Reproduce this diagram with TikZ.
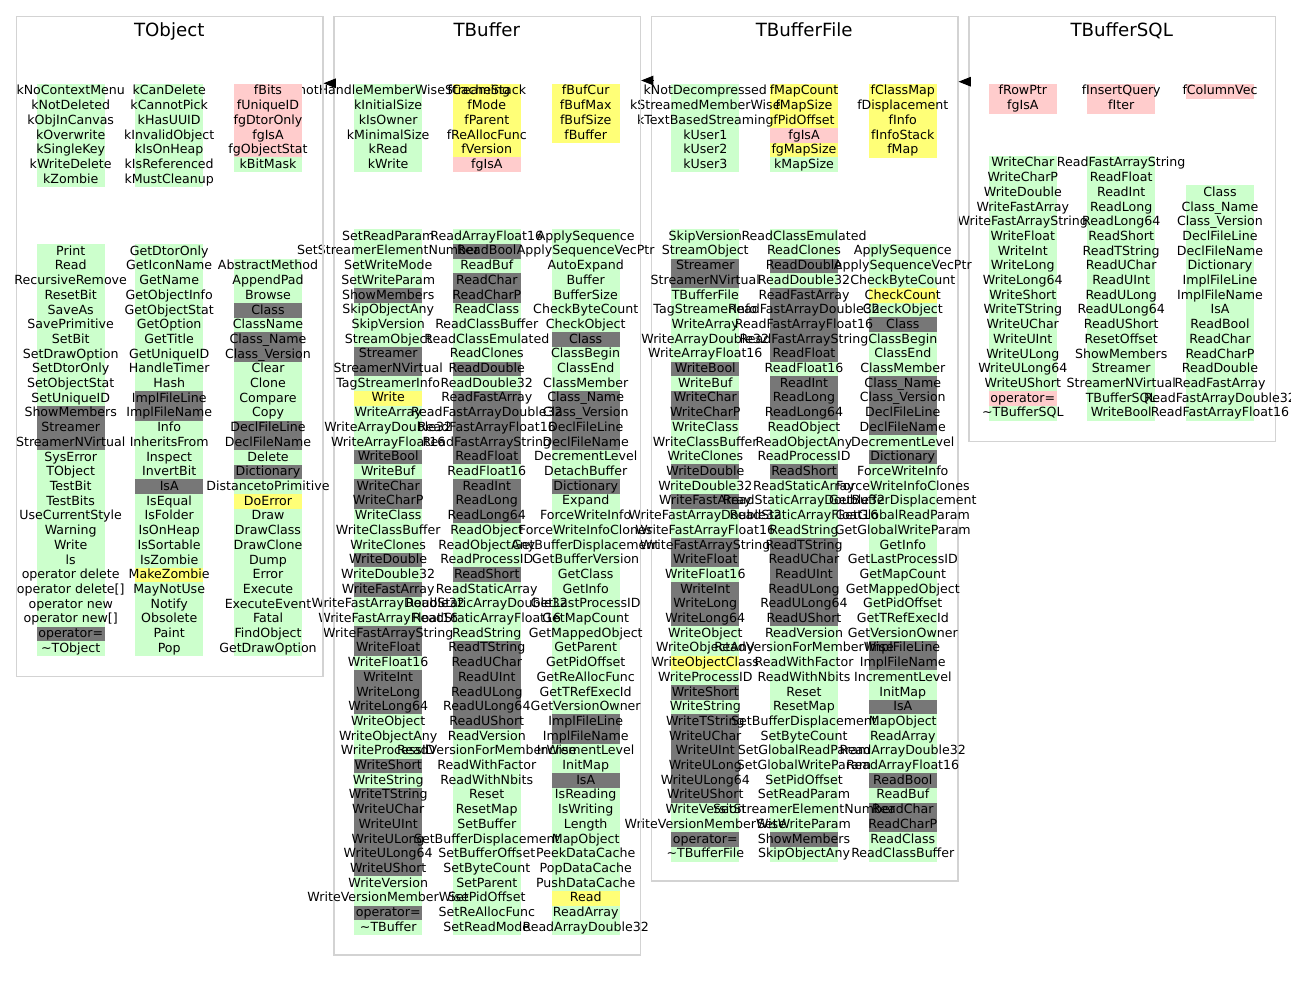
\documentclass[tikz,border=0pt]{standalone}
\usepackage{fontspec}
\setmainfont{DejaVu Sans}
\usetikzlibrary{arrows.meta}

\definecolor{cg}{HTML}{CCFFCC}
\definecolor{cp}{HTML}{FFCCCC}
\definecolor{cy}{HTML}{FFFF77}
\definecolor{ck}{HTML}{777777}
\definecolor{frm}{HTML}{D3D3D3}

\tikzset{
  cell/.style={anchor=base, inner sep=0pt, font=\fontsize{12.6}{14.7}\selectfont},
  clustertitle/.style={anchor=base, inner sep=0pt, font=\fontsize{18.2}{21}\selectfont},
  frame/.style={draw=frm, line width=1.2pt, inner sep=0pt, anchor=north west, minimum width=306.6pt},
  inh/.style={-{Triangle[length=12.3pt,width=9.5pt]}, line width=1pt, black},
}

% row fills of one member column: x centre, top, list of colour/name
\newcommand\colfill[3]{%
  \foreach \clr/\txt [count=\i] in #3 {%
    \fill[fill=c\clr] ({#1-34},{#2+(\i-1)*14.7}) rectangle ({#1+34},{#2+\i*14.7+0.15});
  }}
% row labels of one member column: name prefix, x centre, top, list
\newcommand\coltext[4]{%
  \foreach \clr/\txt [count=\i] in #4 {%
    \node[cell] (#1-\i) at ({#2},{#3+(\i-1)*14.7+11}) {\txt};
  }}

% ---------------- TObject ----------------
\def\TOa{g/kNoContextMenu,g/kNotDeleted,g/kObjInCanvas,g/kOverwrite,g/kSingleKey,g/kWriteDelete,g/kZombie}
\def\TOb{g/kCanDelete,g/kCannotPick,g/kHasUUID,g/kInvalidObject,g/kIsOnHeap,g/kIsReferenced,g/kMustCleanup}
\def\TOc{p/fBits,p/fUniqueID,p/fgDtorOnly,p/fgIsA,p/fgObjectStat,g/kBitMask}
\def\TOd{g/Print,g/Read,g/RecursiveRemove,g/ResetBit,g/SaveAs,g/SavePrimitive,g/SetBit,g/SetDrawOption,g/SetDtorOnly,g/SetObjectStat,g/SetUniqueID,k/ShowMembers,k/Streamer,k/StreamerNVirtual,g/SysError,g/TObject,g/TestBit,g/TestBits,g/UseCurrentStyle,g/Warning,g/Write,g/ls,g/operator delete,g/operator delete[],g/operator new,g/operator new[],k/operator=,g/\textasciitilde TObject}
\def\TOe{g/GetDtorOnly,g/GetIconName,g/GetName,g/GetObjectInfo,g/GetObjectStat,g/GetOption,g/GetTitle,g/GetUniqueID,g/HandleTimer,g/Hash,k/ImplFileLine,k/ImplFileName,g/Info,g/InheritsFrom,g/Inspect,g/InvertBit,k/IsA,g/IsEqual,g/IsFolder,g/IsOnHeap,g/IsSortable,g/IsZombie,y/MakeZombie,g/MayNotUse,g/Notify,g/Obsolete,g/Paint,g/Pop}
\def\TOf{g/AbstractMethod,g/AppendPad,g/Browse,k/Class,g/ClassName,k/Class\_Name,k/Class\_Version,g/Clear,g/Clone,g/Compare,g/Copy,k/DeclFileLine,k/DeclFileName,g/Delete,k/Dictionary,g/DistancetoPrimitive,y/DoError,g/Draw,g/DrawClass,g/DrawClone,g/Dump,g/Error,g/Execute,g/ExecuteEvent,g/Fatal,g/FindObject,g/GetDrawOption}

% ---------------- TBuffer ----------------
\def\TBa{g/kCannotHandleMemberWiseStreaming,g/kInitialSize,g/kIsOwner,g/kMinimalSize,g/kRead,g/kWrite}
\def\TBb{y/fCacheStack,y/fMode,y/fParent,y/fReAllocFunc,y/fVersion,p/fgIsA}
\def\TBc{y/fBufCur,y/fBufMax,y/fBufSize,y/fBuffer}
\def\TBd{g/SetReadParam,g/SetStreamerElementNumber,g/SetWriteMode,g/SetWriteParam,k/ShowMembers,g/SkipObjectAny,g/SkipVersion,g/StreamObject,k/Streamer,k/StreamerNVirtual,g/TagStreamerInfo,y/Write,g/WriteArray,g/WriteArrayDouble32,g/WriteArrayFloat16,k/WriteBool,g/WriteBuf,k/WriteChar,k/WriteCharP,g/WriteClass,g/WriteClassBuffer,g/WriteClones,k/WriteDouble,g/WriteDouble32,k/WriteFastArray,g/WriteFastArrayDouble32,g/WriteFastArrayFloat16,k/WriteFastArrayString,k/WriteFloat,g/WriteFloat16,k/WriteInt,k/WriteLong,k/WriteLong64,g/WriteObject,g/WriteObjectAny,g/WriteProcessID,k/WriteShort,g/WriteString,k/WriteTString,k/WriteUChar,k/WriteUInt,k/WriteULong,k/WriteULong64,k/WriteUShort,g/WriteVersion,g/WriteVersionMemberWise,k/operator=,g/\textasciitilde TBuffer}
\def\TBe{g/ReadArrayFloat16,k/ReadBool,g/ReadBuf,k/ReadChar,k/ReadCharP,g/ReadClass,g/ReadClassBuffer,g/ReadClassEmulated,g/ReadClones,k/ReadDouble,g/ReadDouble32,k/ReadFastArray,k/ReadFastArrayDouble32,k/ReadFastArrayFloat16,k/ReadFastArrayString,k/ReadFloat,g/ReadFloat16,k/ReadInt,k/ReadLong,k/ReadLong64,g/ReadObject,g/ReadObjectAny,g/ReadProcessID,k/ReadShort,g/ReadStaticArray,g/ReadStaticArrayDouble32,g/ReadStaticArrayFloat16,g/ReadString,k/ReadTString,k/ReadUChar,k/ReadUInt,k/ReadULong,k/ReadULong64,k/ReadUShort,g/ReadVersion,g/ReadVersionForMemberWise,g/ReadWithFactor,g/ReadWithNbits,g/Reset,g/ResetMap,g/SetBuffer,g/SetBufferDisplacement,g/SetBufferOffset,g/SetByteCount,g/SetParent,g/SetPidOffset,g/SetReAllocFunc,g/SetReadMode}
\def\TBf{g/ApplySequence,g/ApplySequenceVecPtr,g/AutoExpand,g/Buffer,g/BufferSize,g/CheckByteCount,g/CheckObject,k/Class,g/ClassBegin,g/ClassEnd,g/ClassMember,k/Class\_Name,k/Class\_Version,k/DeclFileLine,k/DeclFileName,g/DecrementLevel,g/DetachBuffer,k/Dictionary,g/Expand,g/ForceWriteInfo,g/ForceWriteInfoClones,g/GetBufferDisplacement,g/GetBufferVersion,g/GetClass,g/GetInfo,g/GetLastProcessID,g/GetMapCount,g/GetMappedObject,g/GetParent,g/GetPidOffset,g/GetReAllocFunc,g/GetTRefExecId,g/GetVersionOwner,k/ImplFileLine,k/ImplFileName,g/IncrementLevel,g/InitMap,k/IsA,g/IsReading,g/IsWriting,g/Length,g/MapObject,g/PeekDataCache,g/PopDataCache,g/PushDataCache,y/Read,g/ReadArray,g/ReadArrayDouble32}

% ---------------- TBufferFile ----------------
\def\TFa{g/kNotDecompressed,g/kStreamedMemberWise,g/kTextBasedStreaming,g/kUser1,g/kUser2,g/kUser3}
\def\TFb{y/fMapCount,y/fMapSize,y/fPidOffset,p/fgIsA,y/fgMapSize,g/kMapSize}
\def\TFc{y/fClassMap,y/fDisplacement,y/fInfo,y/fInfoStack,y/fMap}
\def\TFd{g/SkipVersion,g/StreamObject,k/Streamer,k/StreamerNVirtual,g/TBufferFile,g/TagStreamerInfo,g/WriteArray,g/WriteArrayDouble32,g/WriteArrayFloat16,k/WriteBool,g/WriteBuf,k/WriteChar,k/WriteCharP,g/WriteClass,g/WriteClassBuffer,g/WriteClones,k/WriteDouble,g/WriteDouble32,k/WriteFastArray,g/WriteFastArrayDouble32,g/WriteFastArrayFloat16,k/WriteFastArrayString,k/WriteFloat,g/WriteFloat16,k/WriteInt,k/WriteLong,k/WriteLong64,g/WriteObject,g/WriteObjectAny,y/WriteObjectClass,g/WriteProcessID,k/WriteShort,g/WriteString,k/WriteTString,k/WriteUChar,k/WriteUInt,k/WriteULong,k/WriteULong64,k/WriteUShort,g/WriteVersion,g/WriteVersionMemberWise,k/operator=,g/\textasciitilde TBufferFile}
\def\TFe{g/ReadClassEmulated,g/ReadClones,k/ReadDouble,g/ReadDouble32,k/ReadFastArray,k/ReadFastArrayDouble32,k/ReadFastArrayFloat16,k/ReadFastArrayString,k/ReadFloat,g/ReadFloat16,k/ReadInt,k/ReadLong,k/ReadLong64,g/ReadObject,g/ReadObjectAny,g/ReadProcessID,k/ReadShort,g/ReadStaticArray,g/ReadStaticArrayDouble32,g/ReadStaticArrayFloat16,g/ReadString,k/ReadTString,k/ReadUChar,k/ReadUInt,k/ReadULong,k/ReadULong64,k/ReadUShort,g/ReadVersion,g/ReadVersionForMemberWise,g/ReadWithFactor,g/ReadWithNbits,g/Reset,g/ResetMap,g/SetBufferDisplacement,g/SetByteCount,g/SetGlobalReadParam,g/SetGlobalWriteParam,g/SetPidOffset,g/SetReadParam,g/SetStreamerElementNumber,g/SetWriteParam,k/ShowMembers,g/SkipObjectAny}
\def\TFf{g/ApplySequence,g/ApplySequenceVecPtr,g/CheckByteCount,y/CheckCount,g/CheckObject,k/Class,g/ClassBegin,g/ClassEnd,g/ClassMember,k/Class\_Name,k/Class\_Version,k/DeclFileLine,k/DeclFileName,g/DecrementLevel,k/Dictionary,g/ForceWriteInfo,g/ForceWriteInfoClones,g/GetBufferDisplacement,g/GetGlobalReadParam,g/GetGlobalWriteParam,g/GetInfo,g/GetLastProcessID,g/GetMapCount,g/GetMappedObject,g/GetPidOffset,g/GetTRefExecId,g/GetVersionOwner,k/ImplFileLine,k/ImplFileName,g/IncrementLevel,g/InitMap,k/IsA,g/MapObject,g/ReadArray,g/ReadArrayDouble32,g/ReadArrayFloat16,k/ReadBool,g/ReadBuf,k/ReadChar,k/ReadCharP,g/ReadClass,g/ReadClassBuffer}

% ---------------- TBufferSQL ----------------
\def\TSa{p/fRowPtr,p/fgIsA}
\def\TSb{p/fInsertQuery,p/fIter}
\def\TSc{p/fColumnVec}
\def\TSd{g/WriteChar,g/WriteCharP,g/WriteDouble,g/WriteFastArray,g/WriteFastArrayString,g/WriteFloat,g/WriteInt,g/WriteLong,g/WriteLong64,g/WriteShort,g/WriteTString,g/WriteUChar,g/WriteUInt,g/WriteULong,g/WriteULong64,g/WriteUShort,p/operator=,g/\textasciitilde TBufferSQL}
\def\TSe{g/ReadFastArrayString,g/ReadFloat,g/ReadInt,g/ReadLong,g/ReadLong64,g/ReadShort,g/ReadTString,g/ReadUChar,g/ReadUInt,g/ReadULong,g/ReadULong64,g/ReadUShort,g/ResetOffset,g/ShowMembers,g/Streamer,g/StreamerNVirtual,g/TBufferSQL,g/WriteBool}
\def\TSf{g/Class,g/Class\_Name,g/Class\_Version,g/DeclFileLine,g/DeclFileName,g/Dictionary,g/ImplFileLine,g/ImplFileName,g/IsA,g/ReadBool,g/ReadChar,g/ReadCharP,g/ReadDouble,g/ReadFastArray,g/ReadFastArrayDouble32,g/ReadFastArrayFloat16}

\begin{document}
\begin{tikzpicture}[x=1pt, y=-1pt]
\fill[white] (0,0) rectangle (1291,981);
\useasboundingbox (0,0) rectangle (1291,981);

% TBufferSQL
\node[frame, minimum height=425.3pt] (cTBufferSQL) at (968.3,15.7) {};
\node[clustertitle] (tTBufferSQL) at (1121.7,36.7) {TBufferSQL};
\colfill{1022.8}{84}{\TSa}\colfill{1121.2}{84}{\TSb}\colfill{1220}{84}{\TSc}
\colfill{1022.8}{156}{\TSd}\colfill{1121.2}{156}{\TSe}\colfill{1220}{185.4}{\TSf}
\coltext{sa}{1022.8}{84}{\TSa}\coltext{sb}{1121.2}{84}{\TSb}\coltext{sc}{1220}{84}{\TSc}
\coltext{sd}{1022.8}{156}{\TSd}\coltext{se}{1121.2}{156}{\TSe}\coltext{sf}{1220}{185.4}{\TSf}

% TBufferFile
\node[frame, minimum height=864.6pt] (cTBufferFile) at (650.7,15.7) {};
\node[clustertitle] (tTBufferFile) at (804.2,36.7) {TBufferFile};
\colfill{705.3}{84}{\TFa}\colfill{804}{84}{\TFb}\colfill{902.8}{84}{\TFc}
\colfill{705.3}{229.3}{\TFd}\colfill{804}{229.3}{\TFe}\colfill{902.8}{244}{\TFf}
\coltext{fa}{705.3}{84}{\TFa}\coltext{fb}{804}{84}{\TFb}\coltext{fc}{902.8}{84}{\TFc}
\coltext{fd}{705.3}{229.3}{\TFd}\coltext{fe}{804}{229.3}{\TFe}\coltext{ff}{902.8}{244}{\TFf}

% TBuffer
\node[frame, minimum height=938.6pt] (cTBuffer) at (333.3,15.7) {};
\node[clustertitle] (tTBuffer) at (486.8,36.7) {TBuffer};
\colfill{388.2}{84}{\TBa}\colfill{486.8}{84}{\TBb}\colfill{585.7}{84}{\TBc}
\colfill{388.2}{229.3}{\TBd}\colfill{486.8}{229.3}{\TBe}\colfill{585.7}{229.3}{\TBf}
\coltext{ba}{388.2}{84}{\TBa}\coltext{bb}{486.8}{84}{\TBb}\coltext{bc}{585.7}{84}{\TBc}
\coltext{bd}{388.2}{229.3}{\TBd}\coltext{be}{486.8}{229.3}{\TBe}\coltext{bf}{585.7}{229.3}{\TBf}

% TObject
\node[frame, minimum height=660pt] (cTObject) at (15.7,15.7) {};
\node[clustertitle] (tTObject) at (169.2,36.7) {TObject};
\colfill{70.7}{84}{\TOa}\colfill{169.2}{84}{\TOb}\colfill{268}{84}{\TOc}
\colfill{70.7}{244.3}{\TOd}\colfill{169.2}{244.3}{\TOe}\colfill{268}{259}{\TOf}
\coltext{oa}{70.7}{84}{\TOa}\coltext{ob}{169.2}{84}{\TOb}\coltext{oc}{268}{84}{\TOc}
\coltext{od}{70.7}{244.3}{\TOd}\coltext{oe}{169.2}{244.3}{\TOe}\coltext{of}{268}{259}{\TOf}

% inheritance arrows, derived class to base class
\coordinate (hTB) at (335.2,83.3);
\coordinate (hTF) at (652.6,80.5);
\coordinate (hTS) at (970.2,81.7);
\draw[inh] (hTB) -- (hTB -| cTObject.east);
\draw[inh] (hTF) -- (hTF -| cTBuffer.east);
\draw[inh] (hTS) -- (hTS -| cTBufferFile.east);
\end{tikzpicture}
\end{document}
